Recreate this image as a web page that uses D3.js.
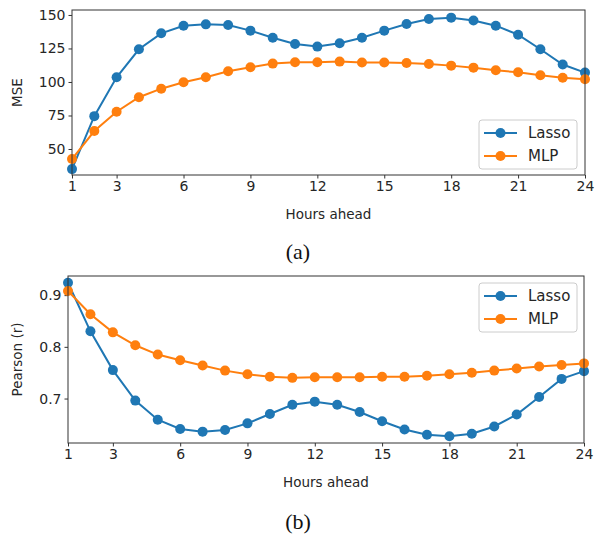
<!DOCTYPE html>
<html><head><meta charset="utf-8">
<script src="https://cdn.jsdelivr.net/npm/d3@7"></script>
<style>body{margin:0;background:#fff}svg{display:block;font-family:"DejaVu Sans",sans-serif}</style>
</head><body>
<svg id="c" width="595" height="535"></svg>
<script>
const hours = d3.range(1, 25);
const xTicks = [1, 3, 6, 9, 12, 15, 18, 21, 24];
const seriesNames = ["Lasso", "MLP"];
const mseLasso = [35, 74.5, 103.5, 124.4, 136.3, 142, 143, 142.5, 138.3, 133, 128.4, 126.4, 128.9, 133, 138.3, 143.3, 147, 148, 145.8, 142, 135.3, 124.4, 113, 107];
const mseMLP = [42.5, 63.4, 77.8, 88.6, 95, 99.8, 103.5, 108, 111, 113.7, 114.7, 114.7, 115.2, 114.5, 114.5, 114.2, 113.4, 112.2, 110.7, 108.7, 107.2, 105, 103.2, 102];
const mseTicks = [50, 75, 100, 125, 150];
const pearLasso = [0.924, 0.830, 0.755, 0.696, 0.659, 0.641, 0.636, 0.639, 0.652, 0.670, 0.688, 0.694, 0.688, 0.674, 0.656, 0.640, 0.630, 0.627, 0.632, 0.646, 0.669, 0.703, 0.738, 0.753];
const pearMLP = [0.908, 0.863, 0.828, 0.803, 0.785, 0.774, 0.764, 0.754, 0.747, 0.742, 0.740, 0.741, 0.741, 0.741, 0.742, 0.742, 0.744, 0.747, 0.750, 0.754, 0.758, 0.762, 0.765, 0.768];
const pearTicks = [0.7, 0.8, 0.9];
const colors = ["#1f77b4", "#ff7f0e"];

const svg = d3.select("#c");

function panel(o) {
  const x = d3.scaleLinear().domain([1, 24]).range([o.left, o.right]);
  const y = d3.scaleLinear().domain(o.ydom).range([o.bottom, o.top]);
  const g = svg.append("g");
  const xa = g.append("g").attr("transform", `translate(0,${o.bottom})`)
    .call(d3.axisBottom(x).tickValues(xTicks).tickSize(3.5).tickPadding(3).tickFormat(d3.format("d")));
  const ya = g.append("g").attr("transform", `translate(${o.left},0)`)
    .call(d3.axisLeft(y).tickValues(o.yticks).tickSize(3.5).tickPadding(3).tickFormat(o.fmt));
  [xa, ya].forEach(a => {
    a.select(".domain").remove();
    a.selectAll("line").attr("stroke", "#333");
    a.selectAll("text").attr("font-size", 14).attr("fill", "#262626").attr("font-family", "DejaVu Sans");
  });
  o.series.forEach((s, i) => {
    const line = d3.line().x((d, j) => x(hours[j])).y(d => y(d));
    g.append("path").datum(s).attr("d", line).attr("fill", "none").attr("stroke", colors[i]).attr("stroke-width", 2);
    g.selectAll(null).data(s).enter().append("circle")
      .attr("cx", (d, j) => x(hours[j])).attr("cy", d => y(d)).attr("r", 5).attr("fill", colors[i]);
  });
  g.append("rect").attr("x", o.left).attr("y", o.top).attr("width", o.right - o.left).attr("height", o.bottom - o.top)
    .attr("fill", "none").attr("stroke", "#333").attr("stroke-width", 1);
  g.append("text").attr("x", (o.left + o.right) / 2).attr("y", o.bottom + 44).attr("text-anchor", "middle")
    .attr("font-size", 13.5).attr("fill", "#262626").text("Hours ahead");
  g.append("text").attr("transform", `translate(${o.ylx},${(o.top + o.bottom) / 2}) rotate(-90)`)
    .attr("text-anchor", "middle").attr("dominant-baseline", "middle").attr("font-size", 13.5).attr("fill", "#262626").text(o.ylabel);
  // legend
  const L = o.legend;
  g.append("rect").attr("x", L.x).attr("y", L.y).attr("width", 98).attr("height", 49).attr("rx", 3)
    .attr("fill", "#fff").attr("fill-opacity", 0.85).attr("stroke", "#ccc");
  seriesNames.forEach((n, i) => {
    const ry = L.y + 13 + i * 23;
    g.append("line").attr("x1", L.x + 5).attr("x2", L.x + 38).attr("y1", ry).attr("y2", ry).attr("stroke", colors[i]).attr("stroke-width", 2);
    g.append("circle").attr("cx", L.x + 21.5).attr("cy", ry).attr("r", 5).attr("fill", colors[i]);
    g.append("text").attr("x", L.x + 49).attr("y", ry).attr("dominant-baseline", "central").attr("font-size", 15).attr("fill", "#262626").text(n);
  });
  svg.append("text").attr("x", 298).attr("y", o.capY).attr("text-anchor", "middle").attr("dominant-baseline", "central")
    .style("font-family", "'Liberation Serif', serif").attr("font-size", 22).attr("fill", "#111").text(o.caption);
}

panel({left: 72, right: 585, top: 10, bottom: 175, ydom: [30.6, 153.7], yticks: mseTicks, fmt: d3.format("d"),
  series: [mseLasso, mseMLP], ylabel: "MSE", ylx: 18, legend: {x: 479, y: 120}, caption: "(a)", capY: 251});
panel({left: 68, right: 584, top: 276, bottom: 443, ydom: [0.614, 0.937], yticks: pearTicks, fmt: d3.format(".1f"),
  series: [pearLasso, pearMLP], ylabel: "Pearson (r)", ylx: 18, legend: {x: 479, y: 283}, caption: "(b)", capY: 521});
</script>
</body></html>
